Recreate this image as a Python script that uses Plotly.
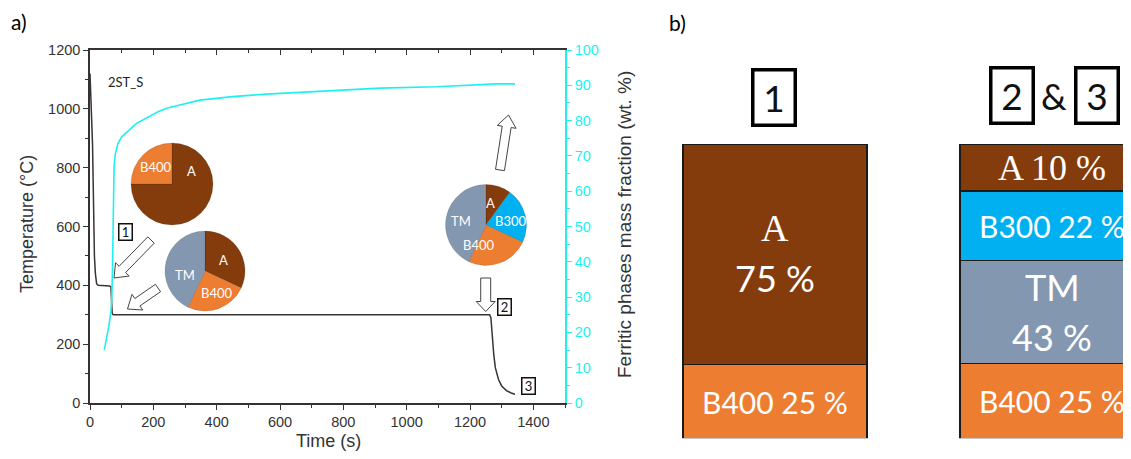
import math
import plotly.graph_objects as go

# The page body has an 8 px margin: the figure is drawn 8 px in from the top-left corner.
OFF = 8
W, H = 1131 - OFF, 459 - OFF

# ---------------- data ----------------
time_T = [0, 2, 5, 8, 10, 12, 14, 17, 21, 26, 62, 66, 68, 70, 73, 400, 800, 1200, 1262, 1266, 1270, 1275, 1280, 1290, 1300, 1315, 1330, 1342]
temp_T = [1120, 1060, 1000, 880, 750, 600, 500, 440, 405, 400, 398, 395, 340, 305, 300, 300, 300, 300, 300, 290, 230, 165, 120, 80, 58, 42, 34, 30]

time_F = [45, 52, 60, 66, 69, 71, 72.5, 74, 76, 80, 88, 100, 147, 215, 242, 347, 450, 558, 768, 916, 1095, 1284, 1342]
frac_F = [15, 18, 22, 26, 30, 38, 50, 62, 67, 70.5, 73.5, 75.4, 79.2, 82.5, 83.5, 85.8, 86.8, 87.5, 88.5, 89.2, 89.6, 90.4, 90.4]

pie1_labels = ["A", "B400"]
pie1_values = [75, 25]
pie2_labels = ["A", "B400", "TM"]
pie2_values = [32, 25, 43]
pie3_labels = ["A", "B300", "B400", "TM"]
pie3_values = [10, 22, 25, 43]

phases = ["B400", "TM", "B300", "A"]
state1_pct = [25, None, None, 75]
state23_pct = [25, 43, 22, 10]
state23_drawn = [25.5, 35, 23.5, 16]   # segment heights as drawn in the schematic
bar_states = [0, 1]

colors = {"A": "#843C0C", "B400": "#ED7D31", "B300": "#00B0F0", "TM": "#8497B0"}
CYAN = "#1EF0F0"
AX = "#333333"

# ---------------- helpers (reference-pixel -> paper) ----------------
def px(x):
    return (x - OFF) / W

def py(y):
    return 1 - (y - OFF) / H

fig = go.Figure()

# ---------------- left chart ----------------
fig.add_trace(go.Scatter(x=time_T, y=temp_T, mode="lines", line=dict(color="#363636", width=1.5),
                         xaxis="x", yaxis="y", showlegend=False, hoverinfo="skip"))
fig.add_trace(go.Scatter(x=time_F, y=frac_F, mode="lines", line=dict(color=CYAN, width=1.6),
                         xaxis="x2", yaxis="y2", showlegend=False, hoverinfo="skip"))

L, R, T, B = 90, 565, 50, 403
tickfont = dict(family="Liberation Sans, Arial", size=14.5, color=AX)

fig.update_layout(
    xaxis=dict(domain=[px(L), px(R)], range=[0, 1500], anchor="y", tickvals=[0, 200, 400, 600, 800, 1000, 1200, 1400],
               ticks="outside", ticklen=5, tickwidth=1.3, tickcolor=AX, showline=True, linecolor=AX, linewidth=1.5,
               minor=dict(ticks="outside", ticklen=3, tickwidth=1.2, tickcolor=AX, dtick=100, tick0=0),
               showgrid=False, zeroline=False, tickfont=tickfont, automargin=False),
    xaxis2=dict(domain=[px(L), px(R)], range=[0, 1500], anchor="y", overlaying="x", side="top", dtick=200,
                ticks="inside", ticklen=5, tickwidth=1.3, tickcolor=AX, showline=True, linecolor=AX, linewidth=1.5,
                minor=dict(ticks="inside", ticklen=3, tickwidth=1.2, tickcolor=AX, dtick=100, tick0=0),
                showticklabels=False, showgrid=False, zeroline=False, automargin=False),
    yaxis=dict(domain=[py(B), py(T)], range=[0, 1200], anchor="x", dtick=200,
               ticks="outside", ticklen=5, tickwidth=1.3, tickcolor=AX, showline=True, linecolor=AX, linewidth=1.5,
               minor=dict(ticks="outside", ticklen=3, tickwidth=1.2, tickcolor=AX, dtick=100, tick0=0),
               showgrid=False, zeroline=False, tickfont=tickfont, automargin=False),
    yaxis2=dict(domain=[py(B), py(T)], range=[0, 100], anchor="x", overlaying="y", side="right", dtick=10,
                ticks="outside", ticklen=5, tickwidth=1.3, tickcolor=CYAN, showline=True, linecolor=CYAN, linewidth=1.5,
                minor=dict(ticks="outside", ticklen=3, tickwidth=1.2, tickcolor=CYAN, dtick=5, tick0=0),
                showgrid=False, zeroline=False, automargin=False,
                tickfont=dict(family="Liberation Sans, Arial", size=14.5, color=CYAN)),
)

ann = []

def text_at(x, y, text, size, family="Lato, Open Sans", color="black", **kw):
    d = dict(x=px(x), y=py(y), xref="paper", yref="paper", text=text, showarrow=False,
             xanchor="center", yanchor="middle", font=dict(family=family, size=size, color=color))
    d.update(kw)
    ann.append(d)

# pies
def pie_domain(cx, cy, r):
    return dict(x=[px(cx - r), px(cx + r)], y=[py(cy + r), py(cy - r)])

pie_specs = [
    (pie1_labels, pie1_values, (172, 184, 41), {"A": (191, 171), "B400": (155, 167)}),
    (pie2_labels, pie2_values, (205, 271, 40), {"A": (223, 260), "B400": (216, 293), "TM": (185, 275)}),
    (pie3_labels, pie3_values, (486, 225, 40.5), {"A": (490, 203), "B300": (510, 221), "B400": (478, 245), "TM": (461, 221)}),
]
for labels, values, (cx, cy, r), label_pos in pie_specs:
    fig.add_trace(go.Pie(labels=labels, values=values, sort=False, direction="clockwise", rotation=0,
                         domain=pie_domain(cx, cy, r), textinfo="none",
                         marker=dict(colors=[colors[l] for l in labels], line=dict(color="rgba(0,0,0,0.12)", width=1)),
                         showlegend=False, hoverinfo="skip"))
    for lab in labels:
        lx, ly = label_pos[lab]
        text_at(lx, ly, lab, 13, color="white")

# ---------------- right panel: stacked bars ----------------
# column centres at reference x = 775 and 1052, column width 184 px
xr0 = -(775 - 660) / 277
xr1 = xr0 + (1131 - 660) / 277
for i, ph in enumerate(phases):
    heights = [state1_pct[i], state23_drawn[i]]
    fig.add_trace(go.Bar(x=bar_states, y=heights, width=184 / 277,
                         marker=dict(color=colors[ph], line=dict(color="#1a1a1a", width=1.5)),
                         xaxis="x3", yaxis="y3", showlegend=False, hoverinfo="skip"))

fig.update_layout(
    barmode="stack",
    xaxis3=dict(domain=[px(660), 1], range=[xr0, xr1], anchor="y3", visible=False, automargin=False),
    yaxis3=dict(domain=[py(438.3), py(144)], range=[0, 100], anchor="x3", visible=False, automargin=False),
)

SANS = "Lato, Open Sans"
SERIF = "Liberation Serif, DejaVu Serif"

def bar_label(xc, ymid, text, family, size, yshift=0):
    ann.append(dict(x=xc, y=ymid, xref="x3", yref="y3", text=text, showarrow=False, yshift=yshift,
                    xanchor="center", yanchor="middle", font=dict(family=family, size=size, color="white")))

cum = 0
for i, ph in enumerate(phases):
    v = state1_pct[i]
    if v is None:
        continue
    mid = cum + v / 2
    if ph == "A":
        bar_label(0, mid, "A", SERIF, 38, yshift=26)
        bar_label(0, mid, f"{v} %", SANS, 36, yshift=-24)
    else:
        bar_label(0, mid, f"{ph} {v} %", SANS, 30)
    cum += v
cum = 0
for i, ph in enumerate(phases):
    v = state23_drawn[i]
    mid = cum + v / 2
    pct = state23_pct[i]
    if ph == "A":
        bar_label(1, mid, f"A {pct} %", SERIF, 36)
    elif ph == "TM":
        bar_label(1, mid, "TM", SANS, 36, yshift=25)
        bar_label(1, mid, f"{pct} %", SANS, 36, yshift=-25)
    else:
        bar_label(1, mid, f"{ph} {pct} %", SANS, 30)
    cum += v

# panel letters, titles
text_at(19, 22, "a)", 21)
text_at(677, 23, "b)", 21)
text_at(328, 441, "Time (s)", 18, family="Liberation Sans, Arial", color=AX)
text_at(27, 224, "Temperature (°C)", 18, family="Liberation Sans, Arial", color=AX, textangle=-90)
text_at(624, 225, "Ferritic phases mass fraction (wt. %)", 19, family="Liberation Sans, Arial", color=AX, textangle=-90)
text_at(125, 82, "2ST_S", 13, color="#222")

# small boxed numbers
for t, (cx, cy) in zip(["1", "2", "3"], [(125, 232), (504, 306.5), (528, 386)]):
    text_at(cx, cy, t, 13, color="#111", width=12, height=15, borderpad=0, bordercolor="#111",
            borderwidth=1.5, bgcolor="white")
# big boxed numbers
for t, (cx, cy) in zip(["1", "2", "3"], [(774, 97.5), (1012.5, 96), (1097, 96)]):
    text_at(cx, cy, t, 37, color="#111", width=39, height=52, borderpad=0, bordercolor="#000",
            borderwidth=3.5, bgcolor="white")
text_at(1054, 96, "&", 36, color="#111")

# hollow block arrows
def block_arrow(x0, y0, x1, y1, sw=4.5, hw=9.5, hl=12):
    dx, dy = x1 - x0, y1 - y0
    Ln = math.hypot(dx, dy)
    ux, uy = dx / Ln, dy / Ln
    nx, ny = -uy, ux
    bx, by = x1 - ux * hl, y1 - uy * hl
    pts = [(x0 + nx * sw, y0 + ny * sw), (bx + nx * sw, by + ny * sw), (bx + nx * hw, by + ny * hw), (x1, y1),
           (bx - nx * hw, by - ny * hw), (bx - nx * sw, by - ny * sw), (x0 - nx * sw, y0 - ny * sw)]
    path = "M " + " L ".join(f"{px(a):.5f},{py(b):.5f}" for a, b in pts) + " Z"
    return dict(type="path", path=path, xref="paper", yref="paper", fillcolor="white",
                line=dict(color="#444", width=1))

shapes = [
    block_arrow(151, 240, 114, 278),
    block_arrow(158, 288, 127.5, 309),
    block_arrow(500, 170, 508.5, 115),
    block_arrow(485.7, 278, 485.7, 311.5, sw=5, hw=9.5, hl=10),
]

fig.update_layout(annotations=ann, shapes=shapes, width=W, height=H, margin=dict(l=0, r=0, t=0, b=0, pad=0),
                  paper_bgcolor="white", plot_bgcolor="rgba(0,0,0,0)", font=dict(family="Liberation Sans, Arial"))

fig.write_html("out.html")
